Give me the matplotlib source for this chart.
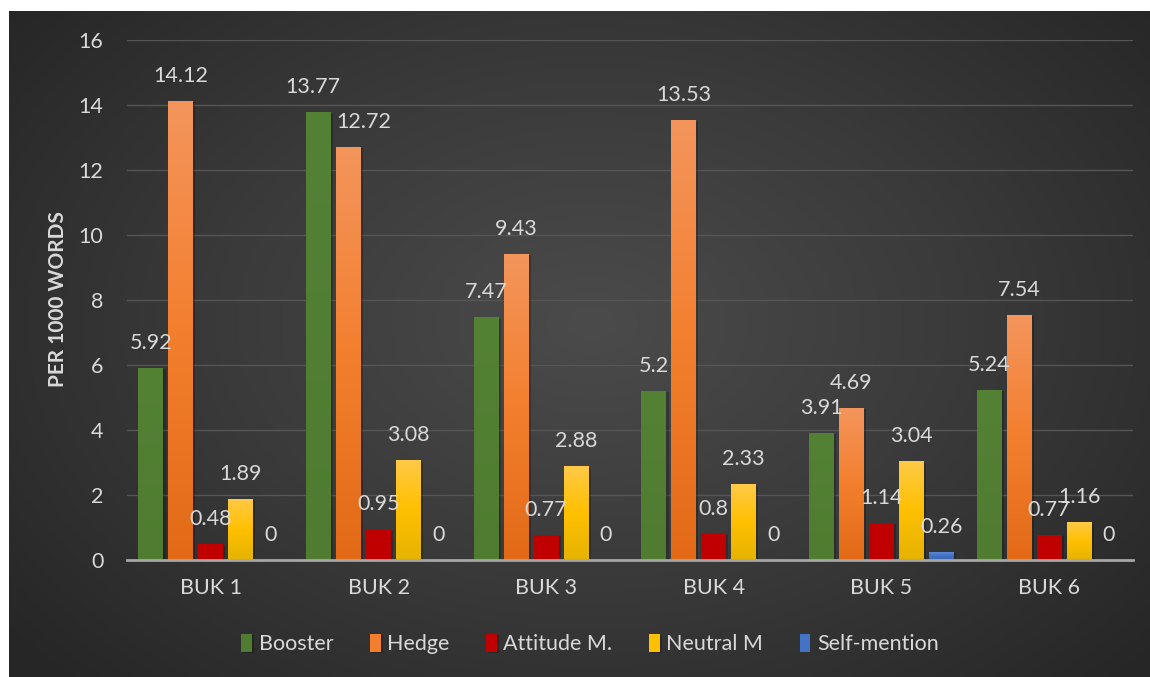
import matplotlib.pyplot as plt
import matplotlib.patheffects as pe
from matplotlib.colors import LinearSegmentedColormap
import numpy as np

plt.rcParams['font.family'] = ['Lato', 'DejaVu Sans']

books = ["BUK 1", "BUK 2", "BUK 3", "BUK 4", "BUK 5", "BUK 6"]
series = ["Booster", "Hedge", "Attitude M.", "Neutral M", "Self-mention"]
booster = [5.92, 13.77, 7.47, 5.2, 3.91, 5.24]
hedge = [14.12, 12.72, 9.43, 13.53, 4.69, 7.54]
attitude = [0.48, 0.95, 0.77, 0.8, 1.14, 0.77]
neutral = [1.89, 3.08, 2.88, 2.33, 3.04, 1.16]
self_mention = [0, 0, 0, 0, 0.26, 0]

# top -> bottom colour stops for each series
grads = [
    ["#548235", "#4f7c30"],
    ["#f4955c", "#f37f2e", "#e26a17"],
    ["#c00000", "#c00000"],
    ["#ffca48", "#ffc000", "#e5b300"],
    ["#6391de", "#4472c4", "#3a65b4"],
]

# a couple of labels nudged sideways (points) so they don't collide
nudge = {(0, 1): -4, (1, 1): 11}

W, H = 1150, 677
fig = plt.figure(figsize=(W / 100, H / 100), dpi=100, facecolor="white")

# dark panel with a soft radial glow
bg = fig.add_axes([9 / W, 0, 1 - 9 / W, 1 - 11 / H])
yy, xx = np.mgrid[0:300, 0:500]
r = np.sqrt(((xx - 255) / 330) ** 2 + ((yy - 140) / 230) ** 2)
r = np.clip(r, 0, 1)
glow = LinearSegmentedColormap.from_list("glow", ["#4b4b4b", "#3a3a3a", "#262626"])
bg.imshow(r, cmap=glow, aspect="auto", extent=[0, 1, 0, 1], origin="upper")
bg.set_axis_off()

ax = fig.add_axes([127 / W, 1 - 560 / H, (1133 - 127) / W, (560 - 40) / H])
ax.set_facecolor("none")

data = [booster, hedge, attitude, neutral, self_mention]
x = np.arange(len(books))
pitch = 30 / 168
width = 25 / 168
shadow = [pe.SimplePatchShadow(offset=(1.5, -1), shadow_rgbFace="black", alpha=0.22), pe.Normal()]

for i, (name, vals) in enumerate(zip(series, data)):
    pos = x + (i - 2) * pitch
    cmap = LinearSegmentedColormap.from_list(name, grads[i][::-1])
    bars = ax.bar(pos, vals, width, color=grads[i][1], label=name, zorder=3)
    for b, v in zip(bars, vals):
        if v > 0:
            b.set_path_effects(shadow)
            img = ax.imshow(np.linspace(0, 1, 256).reshape(-1, 1), cmap=cmap, aspect="auto",
                            origin="lower", extent=[b.get_x(), b.get_x() + width, 0, v], zorder=4)
            img.set_clip_path(b)
    for j, v in enumerate(vals):
        ax.annotate(f"{v:g}", (pos[j], v), xytext=(nudge.get((i, j), 0), 18),
                    textcoords="offset points", ha="center", va="center",
                    fontsize=15.5, color="#d9d9d9", zorder=5)

ax.set_xlim(-0.5, 5.5)
ax.set_ylim(0, 16)
ax.set_yticks(range(0, 17, 2))
ax.set_xticks(x)
ax.set_xticklabels(books)
ax.tick_params(colors="#d9d9d9", labelsize=15.5, length=0)
ax.tick_params(axis="y", pad=17)
ax.tick_params(axis="x", pad=13)
ax.grid(axis="y", color="#555555", linewidth=1, zorder=0)
for s in ["top", "right", "left"]:
    ax.spines[s].set_visible(False)
ax.spines["bottom"].set_color("#a6a6a6")
ax.spines["bottom"].set_linewidth(2)
ax.spines["bottom"].set_zorder(6)

fig.text(58 / W, 1 - 299 / H, "PER 1000 WORDS", rotation=90, ha="center", va="center",
         fontsize=15, fontweight="bold", color="#d9d9d9")

leg = ax.legend(loc="center", bbox_to_anchor=(590 / W, 1 - 644 / H), bbox_transform=fig.transFigure,
                ncol=5, frameon=False, fontsize=15.5, labelcolor="#d9d9d9",
                handlelength=0.5, handleheight=0.9, handletextpad=0.3, columnspacing=1.7)

fig.savefig("out.png", dpi=100, facecolor="white")
